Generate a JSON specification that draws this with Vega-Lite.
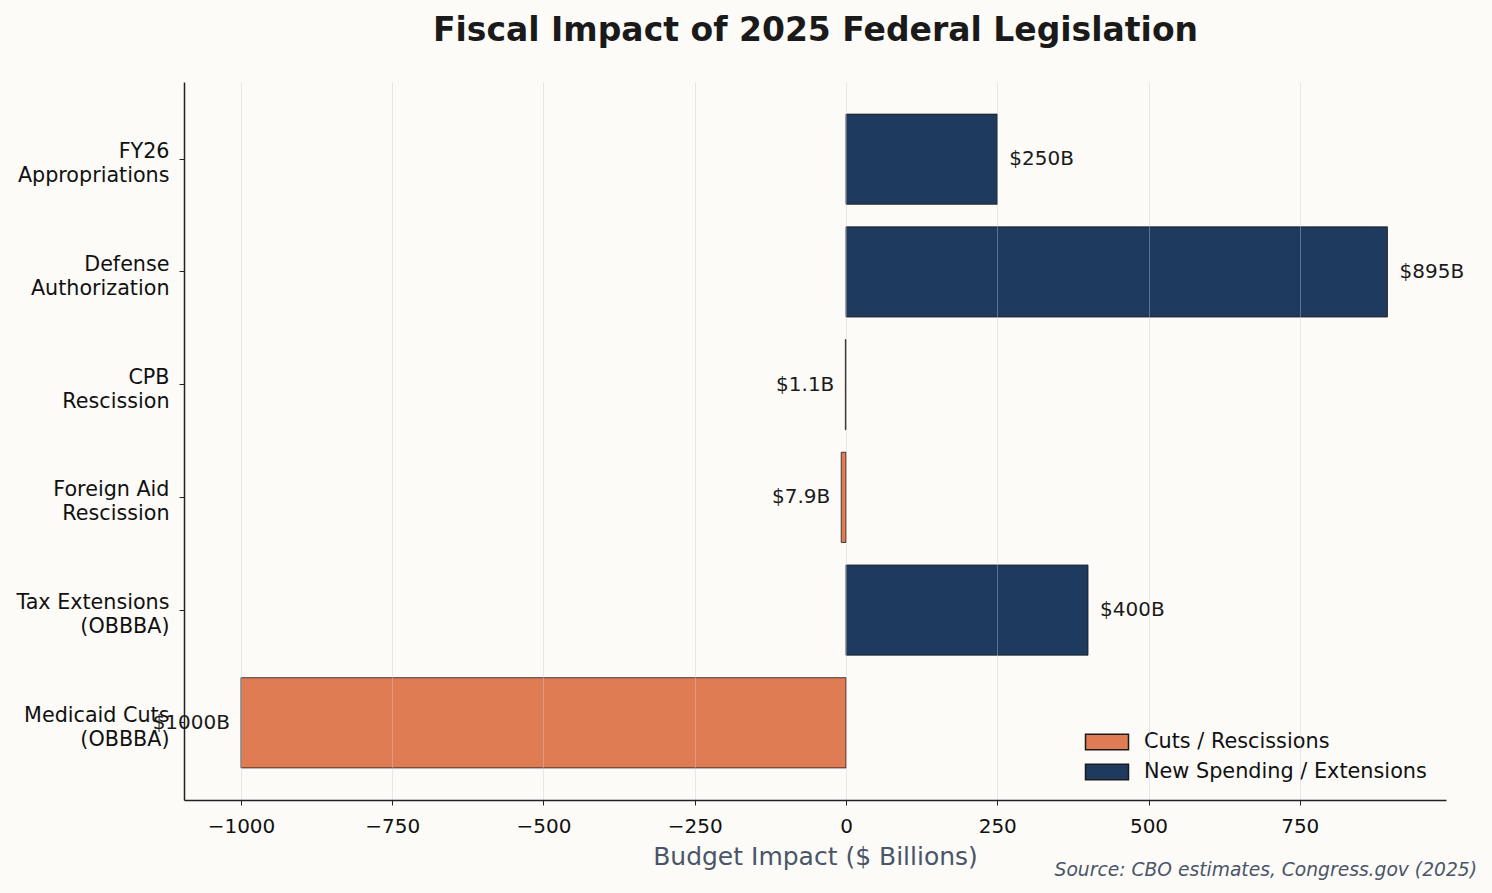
{
  "$schema": "https://vega.github.io/schema/vega-lite/v6.json",
  "width": 1262,
  "height": 718,
  "autosize": "none",
  "padding": {"left": 184, "top": 82, "right": 46, "bottom": 93},
  "background": "#FCFBF8",
  "title": {
    "text": "Source: CBO estimates, Congress.gov (2025)",
    "orient": "bottom",
    "anchor": "end",
    "frame": "group",
    "font": "DejaVu Sans",
    "fontSize": 18.7,
    "fontStyle": "italic",
    "fontWeight": "normal",
    "color": "#4A5568",
    "dx": 31,
    "dy": -8,
    "offset": 0
  },
  "data": {
    "values": [
      {"item": "FY26|Appropriations", "value": 250, "label": "$250B", "type": "New Spending / Extensions"},
      {"item": "Defense|Authorization", "value": 895, "label": "$895B", "type": "New Spending / Extensions"},
      {"item": "CPB|Rescission", "value": -1.1, "label": "$1.1B", "type": "Cuts / Rescissions"},
      {"item": "Foreign Aid|Rescission", "value": -7.9, "label": "$7.9B", "type": "Cuts / Rescissions"},
      {"item": "Tax Extensions|(OBBBA)", "value": 400, "label": "$400B", "type": "New Spending / Extensions"},
      {"item": "Medicaid Cuts|(OBBBA)", "value": -1000, "label": "$1000B", "type": "Cuts / Rescissions"}
    ]
  },
  "encoding": {
    "y": {
      "field": "item",
      "type": "nominal",
      "sort": null,
      "title": null,
      "scale": {"paddingInner": 0.2, "paddingOuter": 0.285},
      "axis": {
        "labelExpr": "split(datum.label, '|')",
        "labelLineHeight": 24,
        "labelFontSize": 20.7,
        "labelColor": "#111",
        "labelPadding": 10,
        "labelOffset": -7,
        "tickSize": 5,
        "tickColor": "#222",
        "domainColor": "#222",
        "domainWidth": 1.5,
        "grid": false
      }
    }
  },
  "layer": [
    {
      "mark": {"type": "bar", "stroke": "#1a1a1a", "strokeWidth": 0.8},
      "encoding": {
        "x": {
          "field": "value",
          "type": "quantitative",
          "scale": {"domain": [-1094.2, 991.7], "nice": false, "zero": false},
          "axis": {
            "title": "Budget Impact ($ Billions)",
            "titleFontSize": 25,
            "titleFontWeight": "normal",
            "titleColor": "#4A5568",
            "titlePadding": 8,
            "values": [-1000, -750, -500, -250, 0, 250, 500, 750],
            "format": "d",
            "labelFontSize": 20,
            "labelColor": "#111",
            "labelPadding": 11,
            "tickSize": 5,
            "tickColor": "#222",
            "domainColor": "#222",
            "domainWidth": 1.5,
            "grid": true,
            "gridColor": "#c8c8d4",
            "gridOpacity": 0.4,
            "zindex": 1
          }
        },
        "color": {
          "field": "type",
          "type": "nominal",
          "scale": {
            "domain": ["Cuts / Rescissions", "New Spending / Extensions"],
            "range": ["#E07C54", "#1F3A5F"]
          },
          "legend": {
            "title": null,
            "orient": "none",
            "legendX": 912,
            "legendY": 649,
            "padding": 0,
            "symbolType": "M-2.15,-0.78L2.15,-0.78L2.15,0.78L-2.15,0.78Z",
            "symbolSize": 400,
            "symbolStrokeColor": "#1a1a1a",
            "symbolStrokeWidth": 1.5,
            "symbolOpacity": 1,
            "labelFontSize": 20.8,
            "labelColor": "#111",
            "labelOffset": 26,
            "labelLimit": 0,
            "rowPadding": 8
          }
        }
      }
    },
    {
      "transform": [{"filter": "datum.value >= 0"}],
      "mark": {"type": "text", "align": "left", "baseline": "middle", "dx": 12, "fontSize": 20, "color": "#1a1a1a"},
      "encoding": {
        "x": {"field": "value", "type": "quantitative", "axis": null},
        "text": {"field": "label"}
      }
    },
    {
      "transform": [{"filter": "datum.value < 0"}],
      "mark": {"type": "text", "align": "right", "baseline": "middle", "dx": -11, "fontSize": 20, "color": "#1a1a1a"},
      "encoding": {
        "x": {"field": "value", "type": "quantitative", "axis": null},
        "text": {"field": "label"}
      }
    },
    {
      "mark": {"type": "rule", "color": "#111", "strokeWidth": 1.8},
      "encoding": {
        "x": {
          "datum": 0,
          "type": "quantitative",
          "axis": {
            "orient": "top",
            "title": "Fiscal Impact of 2025 Federal Legislation",
            "titleFontSize": 33,
            "titleFontWeight": "bold",
            "titleColor": "#1a1a1a",
            "titlePadding": 35,
            "labels": false,
            "ticks": false,
            "domain": false,
            "grid": false
          }
        }
      }
    }
  ],
  "resolve": {"axis": {"x": "independent"}},
  "config": {
    "font": "DejaVu Sans",
    "view": {"stroke": null},
    "axis": {"labelFont": "DejaVu Sans", "titleFont": "DejaVu Sans"},
    "legend": {"labelFont": "DejaVu Sans"}
  }
}
